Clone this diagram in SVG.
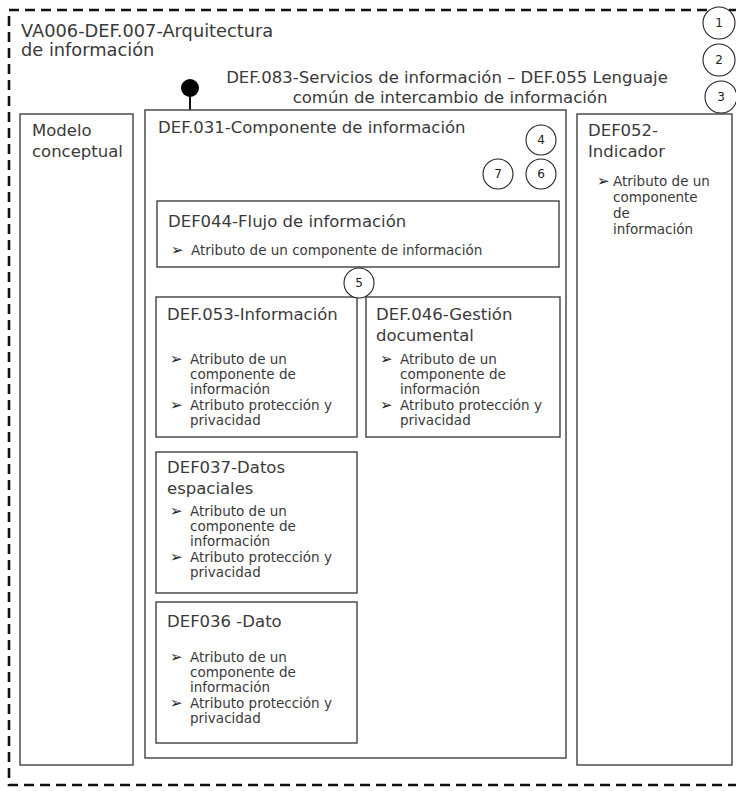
<svg xmlns="http://www.w3.org/2000/svg" width="736" height="791" viewBox="0 0 736 791">
<style>
.box{fill:#fff;stroke:#404040;stroke-width:1.4}
.cir{fill:#fff;stroke:#222;stroke-width:1.1}
.t{font-family:"DejaVu Sans",sans-serif;fill:#3a3a3a}
.h{font-size:16.5px}
.b{font-size:13.5px}
.a{font-family:"DejaVu Sans",sans-serif;font-size:15px;fill:#222}
.n{font-family:"DejaVu Sans",sans-serif;font-size:12px;fill:#222;text-anchor:middle}
.dash{fill:none;stroke:#111;stroke-width:2.6;stroke-dasharray:10 6}
</style>
<rect width="736" height="791" fill="#fff"/>
<g id="outer">
<rect class="dash" x="9" y="10" width="745" height="775"/>
<text class="t" x="21" y="37" font-size="17.8px">VA006-DEF.007-Arquitectura</text>
<text class="t" x="21" y="56" font-size="17.8px">de información</text>
<text class="t h" x="447" y="83" text-anchor="middle" font-size="16.2px">DEF.083-Servicios de información – DEF.055 Lenguaje</text>
<text class="t h" x="450" y="103" text-anchor="middle">común de intercambio de información</text>
</g>
<g id="connectors">
<line x1="190" y1="92" x2="190" y2="110" stroke="#111" stroke-width="2"/>
<circle cx="190" cy="88" r="9" fill="#000"/>
</g>
<g id="modelo">
<rect class="box" x="20" y="114" width="113" height="651"/>
<text class="t h" x="32" y="136">Modelo</text>
<text class="t h" x="32" y="157">conceptual</text>
</g>
<g id="def052">
<rect class="box" x="577" y="114" width="155" height="651"/>
<text class="t h" x="588" y="136">DEF052-</text>
<text class="t h" x="588" y="157">Indicador</text>
<text class="a" x="597" y="186">➢</text>
<text class="t b" x="613" y="186">Atributo de un</text>
<text class="t b" x="613" y="202">componente</text>
<text class="t b" x="613" y="218">de</text>
<text class="t b" x="613" y="234">información</text>
</g>
<g id="def031">
<rect class="box" x="145" y="110" width="421" height="648"/>
<text class="t h" x="158" y="133">DEF.031-Componente de información</text>
</g>
<g id="def044">
<rect class="box" x="157" y="201" width="402" height="66"/>
<text class="t h" x="168" y="227">DEF044-Flujo de información</text>
<text class="a" x="171" y="255">➢</text>
<text class="t b" x="191" y="255">Atributo de un componente de información</text>
</g>
<g id="def053">
<rect class="box" x="156" y="297" width="201" height="140"/>
<text class="t h" x="167" y="320">DEF.053-Información</text>
<text class="a" x="170" y="364">➢</text>
<text class="t b" x="190" y="364">Atributo de un</text>
<text class="t b" x="190" y="379">componente de</text>
<text class="t b" x="190" y="394">información</text>
<text class="a" x="170" y="410">➢</text>
<text class="t b" x="190" y="410">Atributo protección y</text>
<text class="t b" x="190" y="425">privacidad</text>
</g>
<g id="def046">
<rect class="box" x="366" y="297" width="194" height="140"/>
<text class="t h" x="376" y="320">DEF.046-Gestión</text>
<text class="t h" x="376" y="341">documental</text>
<text class="a" x="380" y="364">➢</text>
<text class="t b" x="400" y="364">Atributo de un</text>
<text class="t b" x="400" y="379">componente de</text>
<text class="t b" x="400" y="394">información</text>
<text class="a" x="380" y="410">➢</text>
<text class="t b" x="400" y="410">Atributo protección y</text>
<text class="t b" x="400" y="425">privacidad</text>
</g>
<g id="def037">
<rect class="box" x="156" y="452" width="201" height="141"/>
<text class="t h" x="167" y="473">DEF037-Datos</text>
<text class="t h" x="167" y="494">espaciales</text>
<text class="a" x="170" y="516">➢</text>
<text class="t b" x="190" y="516">Atributo de un</text>
<text class="t b" x="190" y="531">componente de</text>
<text class="t b" x="190" y="546">información</text>
<text class="a" x="170" y="562">➢</text>
<text class="t b" x="190" y="562">Atributo protección y</text>
<text class="t b" x="190" y="577">privacidad</text>
</g>
<g id="def036">
<rect class="box" x="156" y="602" width="201" height="141"/>
<text class="t h" x="167" y="627">DEF036 -Dato</text>
<text class="a" x="170" y="662">➢</text>
<text class="t b" x="190" y="662">Atributo de un</text>
<text class="t b" x="190" y="677">componente de</text>
<text class="t b" x="190" y="692">información</text>
<text class="a" x="170" y="708">➢</text>
<text class="t b" x="190" y="708">Atributo protección y</text>
<text class="t b" x="190" y="723">privacidad</text>
</g>
<g id="markers">
<g id="m1"><circle class="cir" cx="719" cy="23" r="16"/><text class="n" x="719" y="27">1</text></g>
<g id="m2"><circle class="cir" cx="719" cy="60" r="16"/><text class="n" x="719" y="64">2</text></g>
<g id="m3"><circle class="cir" cx="721" cy="97" r="16"/><text class="n" x="721" y="101">3</text></g>
<g id="m4"><circle class="cir" cx="541" cy="140" r="15"/><text class="n" x="541" y="144">4</text></g>
<g id="m7"><circle class="cir" cx="498" cy="174" r="15"/><text class="n" x="498" y="178">7</text></g>
<g id="m6"><circle class="cir" cx="541" cy="174" r="15"/><text class="n" x="541" y="178">6</text></g>
<g id="m5"><circle class="cir" cx="359" cy="283" r="15"/><text class="n" x="359" y="287">5</text></g>
</g>
</svg>
